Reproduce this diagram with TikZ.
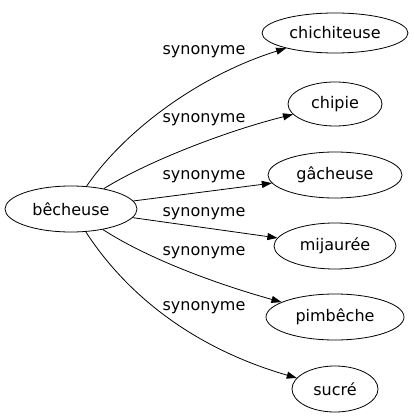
\documentclass[tikz,border=0pt]{standalone}
\usepackage{fontspec}
\setmainfont{DejaVu Sans}
\usetikzlibrary{shapes.geometric,arrows.meta}
\begin{document}
\begin{tikzpicture}[x=1pt,y=-1pt,
  word/.style={draw,ellipse,inner sep=0pt,font=\fontsize{16}{18}\selectfont,line width=0.8pt},
  rel/.style={draw,line width=0.8pt,-{Triangle[length=10pt,width=7pt]}},
  lab/.style={font=\fontsize{16}{18}\selectfont,inner sep=0pt}]
\useasboundingbox (0,0) rectangle (413,419);
\node[word,minimum width=132pt,minimum height=46pt] (b) at (71,209) {bêcheuse};
\node[word,minimum width=146pt,minimum height=40pt] (t1) at (335,33) {chichiteuse};
\node[word,minimum width=94pt,minimum height=44pt] (t2) at (335,104) {chipie};
\node[word,minimum width=134pt,minimum height=46pt] (t3) at (335,175) {gâcheuse};
\node[word,minimum width=122pt,minimum height=46pt] (t4) at (335,246) {mijaurée};
\node[word,minimum width=138pt,minimum height=46pt] (t5) at (335,317) {pimbêche};
\node[word,minimum width=86pt,minimum height=46pt] (t6) at (335,389) {sucré};
\draw[rel] (b) .. controls (125,130) and (200,75) .. (t1);
\draw[rel] (b) .. controls (150,160) and (230,130) .. (t2);
\draw[rel] (b) -- (t3);
\draw[rel] (b) -- (t4);
\draw[rel] (b) .. controls (150,260) and (220,285) .. (t5);
\draw[rel] (b) .. controls (130,300) and (200,350) .. (t6);
\node[lab] (l1) at (204,52) {synonyme};
\node[lab] (l2) at (204,120) {synonyme};
\node[lab] (l3) at (204,177) {synonyme};
\node[lab] (l4) at (204,214) {synonyme};
\node[lab] (l5) at (204,253) {synonyme};
\node[lab] (l6) at (204,308) {synonyme};
\end{tikzpicture}
\end{document}
